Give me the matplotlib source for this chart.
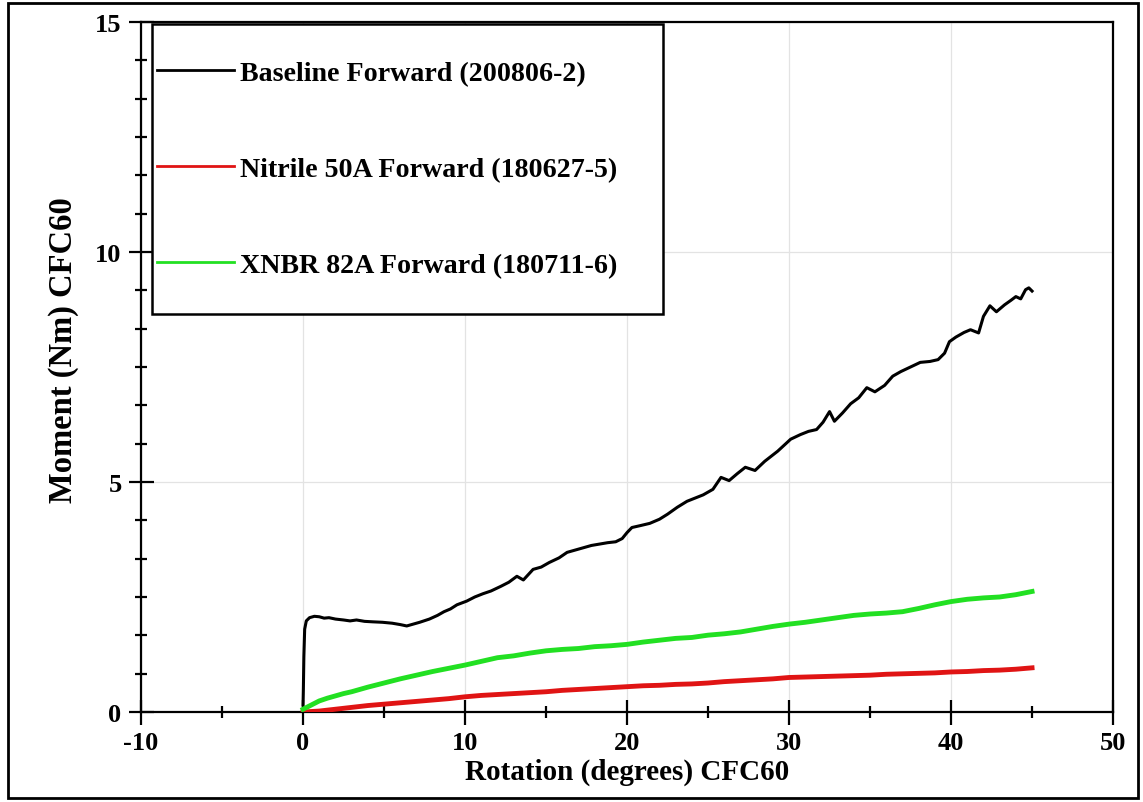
import numpy as np
import matplotlib
matplotlib.use("Agg")
import matplotlib.pyplot as plt
from matplotlib.ticker import MultipleLocator
from matplotlib.patches import Rectangle

plt.rcParams['font.family'] = ['Liberation Serif', 'DejaVu Serif']
plt.rcParams['font.weight'] = 'bold'
plt.rcParams['axes.unicode_minus'] = False

#%% data

base_x = [0.0, 0.02, 0.05, 0.1, 0.2, 0.4, 0.7, 1.0, 1.3, 1.6, 2.0, 2.5, 2.9, 3.3, 3.8,
          4.3, 4.9, 5.5, 6.0, 6.4, 6.7, 7.2, 7.8, 8.3, 8.7, 9.1, 9.5, 10.1, 10.6, 11.1,
          11.6, 12.2, 12.7, 13.2, 13.6, 14.2, 14.7, 15.2, 15.8, 16.3, 16.8, 17.3, 17.8,
          18.3, 18.8, 19.3, 19.7, 20.0, 20.3, 20.8, 21.4, 22.0, 22.5, 23.1, 23.7, 24.2,
          24.7, 25.3, 25.8, 26.3, 26.8, 27.3, 27.9, 28.5, 29.3, 30.1, 30.7, 31.2, 31.7,
          32.1, 32.5, 32.8, 33.3, 33.8, 34.3, 34.8, 35.3, 35.9, 36.4, 36.9, 37.5, 38.1,
          38.7, 39.2, 39.6, 39.9, 40.3, 40.8, 41.2, 41.7, 42.0, 42.4, 42.8, 43.3, 43.7,
          44.0, 44.3, 44.6, 44.8, 45.0]
base_y = [0.15, 0.5, 1.2, 1.8, 1.98, 2.05, 2.08, 2.07, 2.04, 2.05, 2.02, 2.0, 1.98, 2.0, 1.97,
          1.96, 1.95, 1.93, 1.9, 1.87, 1.9, 1.95, 2.02, 2.1, 2.18, 2.24, 2.33, 2.41, 2.5, 2.57,
          2.63, 2.73, 2.82, 2.95, 2.87, 3.1, 3.15, 3.25, 3.35, 3.47, 3.52, 3.57, 3.62,
          3.65, 3.68, 3.7, 3.77, 3.9, 4.01, 4.05, 4.1, 4.19, 4.3, 4.45, 4.58, 4.65,
          4.72, 4.84, 5.1, 5.03, 5.18, 5.32, 5.25, 5.45, 5.67, 5.93, 6.03, 6.1, 6.14,
          6.3, 6.53, 6.32, 6.5, 6.7, 6.83, 7.05, 6.96, 7.1, 7.3, 7.4, 7.5, 7.6,
          7.62, 7.66, 7.8, 8.05, 8.15, 8.25, 8.31, 8.24, 8.6, 8.83, 8.7, 8.85, 8.95,
          9.03, 8.98, 9.18, 9.22, 9.15]

xnbr_x = [0, 0.5, 1, 1.5, 2, 2.5, 3, 4, 5, 6, 7, 8, 9, 10, 11, 12, 13, 14, 15, 16, 17, 18,
          19, 20, 21, 22, 23, 24, 25, 26, 27, 28, 29, 30, 31, 32, 33, 34, 35, 36, 37, 38,
          39, 40, 41, 42, 43, 44, 45]
xnbr_y = [0.06, 0.15, 0.24, 0.3, 0.35, 0.4, 0.44, 0.54, 0.63, 0.72, 0.8, 0.88, 0.95, 1.02,
          1.1, 1.18, 1.22, 1.28, 1.33, 1.36, 1.38, 1.42, 1.44, 1.47, 1.52, 1.56, 1.6, 1.62,
          1.67, 1.7, 1.74, 1.8, 1.86, 1.91, 1.95, 2.0, 2.05, 2.1, 2.13, 2.15, 2.18, 2.25,
          2.33, 2.4, 2.45, 2.48, 2.5, 2.55, 2.62]

nit_x = list(range(0, 46))
nit_y = [0.0, 0.02, 0.06, 0.1, 0.14, 0.17, 0.2, 0.23, 0.26, 0.29, 0.33, 0.36, 0.38, 0.4,
         0.42, 0.44, 0.47, 0.49, 0.51, 0.53, 0.55, 0.57, 0.58, 0.6, 0.61, 0.63, 0.66, 0.68,
         0.7, 0.72, 0.75, 0.76, 0.77, 0.78, 0.79, 0.8, 0.82, 0.83, 0.84, 0.85, 0.87, 0.88,
         0.9, 0.91, 0.93, 0.96]

labels = ["Baseline Forward (200806-2)", "Nitrile 50A Forward (180627-5)",
          "XNBR 82A Forward (180711-6)"]

#%% plot

fig = plt.figure(figsize=(11.43, 8.03), dpi=100)
ax = fig.add_axes([0.1234, 0.1121, 0.8504, 0.8593])

ax.plot(base_x, base_y, color="black", lw=2.2, label=labels[0], zorder=3)
ax.plot(nit_x, nit_y, color="#e01414", lw=3.5, label=labels[1], zorder=3)
ax.plot(xnbr_x, xnbr_y, color="#22e022", lw=3.5, label=labels[2], zorder=3)

ax.set_xlim(-10, 50)
ax.set_ylim(0, 15)
ax.xaxis.set_major_locator(MultipleLocator(10))
ax.xaxis.set_minor_locator(MultipleLocator(5))
ax.yaxis.set_major_locator(MultipleLocator(5))
ax.yaxis.set_minor_locator(MultipleLocator(5/6))
ax.tick_params(which="major", direction="inout", length=18, width=1.6, labelsize=19, pad=5)
ax.tick_params(which="minor", direction="inout", length=9, width=1.6)
for lab in ax.get_xticklabels() + ax.get_yticklabels():
    lab.set_fontweight("bold")

ax.grid(True, which="major", color="#e3e3e3", lw=0.9, zorder=0)
for s in ax.spines.values():
    s.set_linewidth(1.6)

ax.set_xlabel("Rotation (degrees) CFC60", fontsize=21, fontweight="bold", labelpad=2)
ax.set_ylabel("Moment (Nm) CFC60", fontsize=23.5, fontweight="bold")
ax.yaxis.set_label_coords(-0.064, 0.526)

# legend box drawn separately (padding is not symmetric in the original)
ax.add_patch(Rectangle((0.0113, 0.577), 0.526, 0.42, transform=ax.transAxes,
                       fill=True, facecolor="white", edgecolor="black", lw=1.8, zorder=4))
leg = ax.legend(loc="upper left", bbox_to_anchor=(0.0165, 0.944), frameon=False,
                borderpad=0, borderaxespad=0, handlelength=2.75, handletextpad=0.2,
                labelspacing=2.5, prop={"size": 20.2, "weight": "bold"})
leg.set_zorder(5)
for h in leg.get_lines():
    h.set_linewidth(2)

# outer frame around the whole picture
fig.add_artist(Rectangle((8/1143, 4/803), 1130/1143, 795/803, transform=fig.transFigure,
                         fill=False, edgecolor="black", lw=2))

fig.savefig("out.png", dpi=100)
